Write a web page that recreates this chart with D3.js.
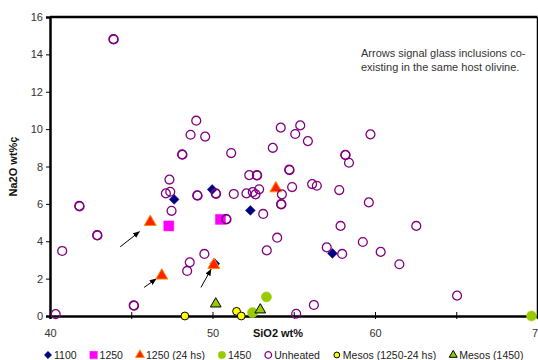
<!DOCTYPE html>
<html>
<head>
<meta charset="utf-8">
<script src="https://cdn.jsdelivr.net/npm/d3@7"></script>
<style>
  body { margin: 0; background: #fff; }
  text { font-family: "Liberation Sans", Arial, sans-serif; }
</style>
</head>
<body>
<svg id="chart" width="538" height="360"></svg>
<script>
// SiO2 (x) and Na2O (y) wt%
var heat1100 = [[47.64, 6.24], [49.98, 6.77], [52.33, 5.65], [57.38, 3.35], [50.14, 2.8]]
var heat1250 = [[47.31, 4.82], [50.49, 5.17]]
var heat1250_24 = [[46.17, 5.03], [46.88, 2.16], [53.9, 6.83], [50.08, 2.73]]
var heat1450 = [[53.32, 1.02], [52.46, 0.18], [69.63, 0.0]]
var unheated = [
  [40.35, 0.1], [40.75, 3.48], [41.8, 5.89], [41.82, 5.87], [42.9, 4.33], [42.92, 4.31],
  [43.9, 14.82], [43.92, 14.8], [45.15, 0.57], [45.17, 0.55], [47.35, 7.3], [47.13, 6.56],
  [47.4, 6.65], [47.48, 5.63], [48.13, 8.65], [48.15, 8.63], [48.65, 9.7], [49.0, 10.45],
  [49.55, 9.6], [49.06, 6.46], [49.08, 6.44], [48.6, 2.87], [48.44, 2.41], [49.5, 3.32],
  [50.2, 6.56], [50.22, 6.54], [50.84, 5.19], [50.86, 5.17], [51.15, 8.72], [51.31, 6.53],
  [52.09, 6.56], [52.48, 6.63], [52.65, 6.51], [52.87, 6.78], [52.26, 7.54], [52.73, 7.54],
  [52.75, 7.52], [53.12, 5.46], [53.34, 3.51], [53.71, 9.0], [53.98, 4.19], [54.2, 10.08],
  [54.27, 6.51], [54.22, 5.99], [54.24, 5.97], [54.72, 7.83], [54.74, 7.81], [54.9, 6.9],
  [55.09, 9.74], [55.4, 10.2], [55.87, 9.36], [55.15, 0.12], [56.13, 7.06], [56.42, 6.97],
  [56.24, 0.59], [57.03, 3.67], [57.8, 6.74], [57.88, 4.82], [57.98, 3.32], [58.17, 8.63],
  [58.19, 8.61], [58.4, 8.2], [59.25, 3.96], [59.62, 6.08], [59.72, 9.72], [60.35, 3.43],
  [61.5, 2.77], [62.54, 4.82], [65.05, 1.09]
]
var mesos1250 = [[48.3, 0.0], [51.48, 0.25], [51.77, 0.0]]
var mesos1450 = [[50.2, 0.65], [52.94, 0.33]]

// arrows: [x0, y0, x1, y1] in data units
var arrows = [[44.32, 3.7, 45.5, 4.51], [45.79, 1.53, 46.53, 1.98], [49.29, 1.53, 49.91, 2.5]]

var xTicks = [40, 45, 50, 55, 60, 65, 70]
var xLabels = [40, 50, 60, 70]
var yTicks = [0, 2, 4, 6, 8, 10, 12, 14, 16]
var note = ["Arrows signal glass inclusions co-", "existing in the same host olivine."]

var margin = {top: 17, right: 1, bottom: 44, left: 50},
    width = 538 - margin.left - margin.right,
    height = 360 - margin.top - margin.bottom

var svg = d3.select("#chart")
var g = svg.append("g")
  .attr("transform", "translate(" + margin.left + "," + margin.top + ")")

var x = d3.scaleLinear().domain([40, 70]).range([0, 487.5])
var y = d3.scaleLinear().domain([0, 16]).range([299, 0])

// frame (top and right of plot area)
g.append("line").attr("x1", 0).attr("x2", x(70)).attr("y1", 0).attr("y2", 0)
  .attr("stroke", "#000").attr("stroke-width", 2.5)
g.append("line").attr("x1", x(70)).attr("x2", x(70)).attr("y1", 0).attr("y2", y(0))
  .attr("stroke", "#000").attr("stroke-width", 1.5)

// y axis
var yAxis = g.append("g")
  .call(d3.axisLeft(y).tickValues(yTicks).tickSize(4).tickPadding(3))
yAxis.select(".domain").attr("stroke-width", 2.5)
yAxis.selectAll("text").attr("font-size", 11).attr("fill", "#333")
  .style("font-family", "Liberation Sans, Arial, sans-serif")

// x axis (cross ticks, labels only every 10)
var xAxis = g.append("g")
  .attr("transform", "translate(0," + y(0) + ")")
  .call(d3.axisBottom(x).tickValues(xTicks).tickSize(3).tickPadding(10)
    .tickFormat(d => xLabels.indexOf(d) >= 0 ? d : ""))
xAxis.select(".domain").attr("stroke-width", 2.5)
xAxis.selectAll(".tick line").attr("y1", -4).attr("y2", 3)
xAxis.selectAll("text").attr("font-size", 11).attr("fill", "#333")
  .style("font-family", "Liberation Sans, Arial, sans-serif")

// axis titles
g.append("text")
  .attr("transform", "translate(-33," + (y(8)) + ") rotate(-90)")
  .attr("text-anchor", "middle")
  .attr("font-size", 11).attr("font-weight", "bold").attr("fill", "#111")
  .text("Na2O wt%ç")

g.append("text")
  .attr("x", 228).attr("y", 320)
  .attr("text-anchor", "middle")
  .attr("font-size", 11).attr("font-weight", "bold").attr("fill", "#111")
  .text("SiO2 wt%")

// note
g.selectAll(".note").data(note).enter().append("text")
  .attr("class", "note")
  .attr("x", 311).attr("y", (d, i) => 40 + i * 14)
  .attr("font-size", 11).attr("fill", "#333")
  .text(d => d)

// arrows
svg.append("defs").append("marker")
  .attr("id", "head").attr("viewBox", "0 0 10 10")
  .attr("refX", 9).attr("refY", 5)
  .attr("markerWidth", 7).attr("markerHeight", 7)
  .attr("orient", "auto")
  .append("path").attr("d", "M0,1 L10,5 L0,9 Z").attr("fill", "#000")

g.selectAll(".arrow").data(arrows).enter().append("line")
  .attr("class", "arrow")
  .attr("x1", d => x(d[0])).attr("y1", d => y(d[1]))
  .attr("x2", d => x(d[2])).attr("y2", d => y(d[3]))
  .attr("stroke", "#000").attr("stroke-width", 1)
  .attr("marker-end", "url(#head)")

// series, drawn in legend order
var series = [
  {name: "1100", data: heat1100, shape: d3.symbolSquare, size: 48, rot: 45, fill: "#000080", stroke: "#000080", sw: 0.5},
  {name: "1250", data: heat1250, shape: d3.symbolSquare, size: 100, rot: 0, fill: "#ff00ff", stroke: "#ff00ff", sw: 0.5},
  {name: "1250 (24 hs)", data: heat1250_24, shape: d3.symbolTriangle, size: 62, rot: 0, fill: "#ff2200", stroke: "#ff8c00", sw: 1},
  {name: "1450", data: heat1450, shape: d3.symbolCircle, size: 80, rot: 0, fill: "#99cc00", stroke: "#99cc00", sw: 0.5},
  {name: "Unheated", data: unheated, shape: d3.symbolCircle, size: 62, rot: 0, fill: "none", stroke: "#800080", sw: 1.3},
  {name: "Mesos (1250-24 hs)", data: mesos1250, shape: d3.symbolCircle, size: 48, rot: 0, fill: "#ffff00", stroke: "#000", sw: 1},
  {name: "Mesos (1450)", data: mesos1450, shape: d3.symbolTriangle, size: 50, rot: 0, fill: "#99cc00", stroke: "#000", sw: 1}
]

series.forEach(function(s) {
  g.append("g").selectAll("path").data(s.data).enter().append("path")
    .attr("transform", d => "translate(" + x(d[0]) + "," + y(d[1]) + ") rotate(" + s.rot + ")")
    .attr("d", d3.symbol().type(s.shape).size(s.size))
    .attr("fill", s.fill).attr("stroke", s.stroke).attr("stroke-width", s.sw)
})

// legend
var legend = svg.append("g").attr("transform", "translate(48,355)")
var lx = 0
series.forEach(function(s) {
  var item = legend.append("g").attr("transform", "translate(" + lx + ",0)")
  item.append("path")
    .attr("transform", "rotate(" + s.rot + ")")
    .attr("d", d3.symbol().type(s.shape).size(s.size * 0.55))
    .attr("fill", s.fill).attr("stroke", s.stroke).attr("stroke-width", s.sw)
  var t = item.append("text")
    .attr("x", 6).attr("y", 3.5)
    .attr("font-size", 10.5).attr("fill", "#222")
    .text(s.name)
  lx += 6 + t.node().getComputedTextLength() + 17
})
</script>
</body>
</html>
